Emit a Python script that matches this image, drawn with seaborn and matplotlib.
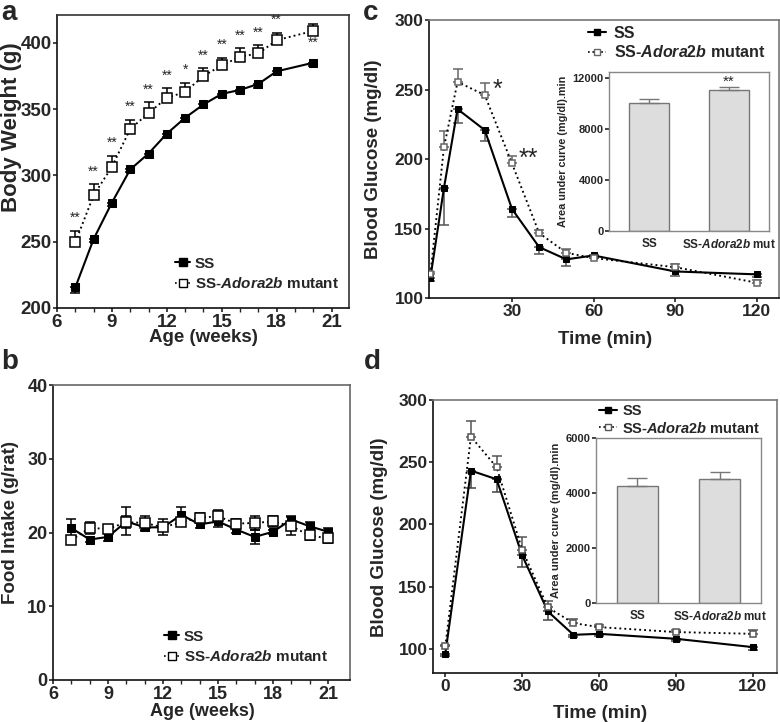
import matplotlib
matplotlib.use("Agg")
import numpy as np
import pandas as pd
import seaborn as sns
import matplotlib.pyplot as plt
from matplotlib.lines import Line2D

# ---------------- data ----------------
weeks_a = [7, 8, 9, 10, 11, 12, 13, 14, 15, 16, 17, 18, 20]
bw_ss = [215.5, 252, 279.5, 304.5, 316.5, 331.5, 343.5, 353.5, 361.5, 364.5, 369, 378.5, 385]
bw_ss_err = [4.5, 2.5, 2.5, 2, 2.5, 2.5, 2.5, 2.5, 2.5, 2.5, 3, 2, 2.5]
bw_mut = [249.5, 285, 306.5, 335, 347, 358.5, 363, 375, 383, 389.5, 392, 402, 409]
bw_mut_err = [8.8, 8.6, 8.5, 7, 8.3, 7.3, 7, 6, 5.8, 6.3, 6.3, 5.8, 5.5]
bw_sig = ["**", "**", "**", "**", "**", "**", "*", "**", "**", "**", "**", "**", "**"]
bw_sig_side = ["above"] * 12 + ["below"]

weeks_b = list(range(7, 22))
fi_ss = [20.6, 19.05, 19.4, 21.5, 20.7, 20.7, 22.4, 21.1, 21.5, 20.4, 19.4, 20.1, 21.75, 20.85, 20.1]
fi_ss_err = [1.2, 0.4, 0.5, 1.9, 0.5, 1.1, 1.1, 0.5, 0.8, 0.5, 1.0, 0.3, 0.5, 0.6, 0.5]
fi_mut = [19.0, 20.6, 20.5, 21.4, 21.3, 20.7, 21.4, 22.0, 22.2, 21.2, 21.3, 21.5, 20.85, 19.6, 19.2]
fi_mut_err = [0.4, 0.8, 0.5, 0.8, 0.9, 0.5, 0.5, 0.7, 0.8, 0.6, 1.0, 0.7, 1.2, 0.6, 0.6]

t_c = [0, 5, 10, 20, 30, 40, 50, 60, 90, 120]
gc_ss = [114.4, 179.2, 235.9, 220.8, 164.1, 136.6, 127.8, 130.6, 119.1, 117]
gc_ss_err = [2.5, 26.6, 10, 8, 6, 4.6, 5, 2, 3.6, 2]
gc_mut = [117, 208.4, 255.5, 246, 196.9, 146.7, 132.5, 128.7, 122.2, 111]
gc_mut_err = [2, 12, 9, 9, 5, 2, 3, 2, 2, 2]
auc_groups = ["SS", "SS-$\\it{Adora2b}$ mut"]
auc_c = [10084, 11082]
auc_c_err = [260, 210]

t_d = [0, 10, 20, 30, 40, 50, 60, 90, 120]
gd_ss = [96, 243.2, 236.3, 175, 130, 111.2, 112, 108, 101.3]
gd_ss_err = [1.5, 14, 10.5, 9.5, 6.7, 1.5, 1.5, 2, 2.7]
gd_mut = [101.9, 270.5, 246, 179.5, 133.2, 120.6, 117.4, 113.4, 112]
gd_mut_err = [1.5, 13, 9, 10, 4.8, 3.2, 1.5, 1.5, 3]
auc_d = [4242, 4509]
auc_d_err = [300, 255]

series_names = ["SS", "SS-$\\it{Adora2b}$ mutant"]

# ---------------- style ----------------
sns.set_theme(style="ticks")
plt.rcParams["font.family"] = ["Liberation Sans", "DejaVu Sans"]
plt.rcParams["font.weight"] = "bold"
plt.rcParams["axes.labelweight"] = "bold"
plt.rcParams["mathtext.fontset"] = "custom"
plt.rcParams["mathtext.it"] = "Liberation Sans:italic:bold"
plt.rcParams["mathtext.rm"] = "Liberation Sans:bold"
plt.rcParams["mathtext.bf"] = "Liberation Sans:bold"

W, H = 780, 722
fig = plt.figure(figsize=(W / 100, H / 100), dpi=100)


def px_axes(l, t, r, b):
    return fig.add_axes([l / W, 1 - b / H, (r - l) / W, (b - t) / H])


def ftext(x, y, s, **kw):
    fig.text(x / W, 1 - y / H, s, **kw)


def style_axes(ax, spine_col="#333333", lw=1.2, labelsize=13):
    for s in ax.spines.values():
        s.set_visible(True)
        s.set_color(spine_col)
        s.set_linewidth(lw)
    ax.spines["left"].set_color("#111111")
    ax.spines["bottom"].set_color("#111111")
    ax.tick_params(direction="out", length=3, width=1.1, labelsize=labelsize, pad=1, color="#111111")
    for lab in ax.get_xticklabels() + ax.get_yticklabels():
        lab.set_fontweight("bold")


def draw_series(ax, x, y, err, filled, ms, up, lw=1.5, ecol="black", both=False):
    if both:
        yerr = [err, err]
    elif up:
        yerr = [np.zeros(len(err)), err]
    else:
        yerr = [err, np.zeros(len(err))]
    ax.errorbar(x, y, yerr=yerr, fmt="none", ecolor=ecol, elinewidth=1.1, capsize=3.5, capthick=1.1, zorder=2)
    df = pd.DataFrame({"x": x, "y": y})
    if filled:
        sns.lineplot(data=df, x="x", y="y", ax=ax, color="black", linewidth=lw, marker="s",
                     markersize=ms, markerfacecolor="black", markeredgecolor="black",
                     sort=False, errorbar=None, zorder=3)
    else:
        sns.lineplot(data=df, x="x", y="y", ax=ax, color="black", linewidth=lw * 0.9, linestyle=":",
                     marker="s", markersize=ms, markerfacecolor="white", markeredgecolor=ecol,
                     markeredgewidth=1.1, sort=False, errorbar=None, zorder=4)


def add_legend(ax, xpx, ypx, fs, ms, hl=0.9, spacing=0.35, mec="black", tp=0.3):
    hs = [Line2D([], [], color="black", lw=1.5, marker="s", ms=ms, mfc="black"),
          Line2D([], [], color="black", lw=1.2, ls=":", marker="s", ms=ms, mfc="white", mec=mec)]
    ax.legend(hs, series_names, loc="center left", bbox_to_anchor=(xpx / W, 1 - ypx / H),
              bbox_transform=fig.transFigure, frameon=False, handlelength=hl,
              handletextpad=tp, labelspacing=spacing, borderpad=0, borderaxespad=0,
              prop={"weight": "bold", "size": fs})


# ---------------- panel a ----------------
ax = px_axes(57, 15, 349, 308)
draw_series(ax, weeks_a, bw_ss, bw_ss_err, True, 5.5, up=False)
draw_series(ax, weeks_a, bw_mut, bw_mut_err, False, 6.5, up=True)
ax.set_xlim(6, 21.95)
ax.set_ylim(200, 421)
ax.set_xticks([6, 9, 12, 15, 18, 21])
ax.set_xticks(range(6, 22), minor=True)
ax.set_yticks([200, 250, 300, 350, 400])
ax.set_xlabel("")
ax.set_ylabel("")
style_axes(ax, labelsize=13.5)
ax.tick_params(axis="x", which="minor", length=3, width=1)
for x, m, e, s, side in zip(weeks_a, bw_mut, bw_mut_err, bw_sig, bw_sig_side):
    yy = m + e + 9.5 if side == "above" else m - 9
    ax.text(x, yy, s, ha="center", va="center", fontsize=10, fontweight="normal")
add_legend(ax, 175, 274, 11, 5.5, hl=1.0)
ftext(12, 127, "Body Weight (g)", rotation=90, ha="center", va="center", fontsize=16, fontweight="bold")
ftext(203, 338, "Age (weeks)", ha="center", va="center", fontsize=13.5, fontweight="bold")
ftext(1, 0, "a", ha="left", va="top", fontsize=20, fontweight="bold")

# ---------------- panel b ----------------
ax = px_axes(53, 385, 350, 680)
draw_series(ax, weeks_b, fi_ss, fi_ss_err, True, 6, up=False, both=True)
draw_series(ax, weeks_b, fi_mut, fi_mut_err, False, 6.5, up=True, both=True)
ax.set_xlim(6, 22.2)
ax.set_ylim(0, 40)
ax.set_xticks([6, 9, 12, 15, 18, 21])
ax.set_xticks(range(6, 22), minor=True)
ax.set_yticks([0, 10, 20, 30, 40])
ax.set_xlabel("")
ax.set_ylabel("")
style_axes(ax, spine_col="#666666", labelsize=13)
ax.tick_params(axis="x", which="minor", length=3, width=1)
add_legend(ax, 164, 647, 11, 6, hl=1.0)
ftext(11, 523, "Food Intake (g/rat)", rotation=90, ha="center", va="center", fontsize=13.5, fontweight="bold")
ftext(202, 712, "Age (weeks)", ha="center", va="center", fontsize=13, fontweight="bold")
ftext(1, 369, "b", ha="left", va="baseline", fontsize=20, fontweight="bold")

# ---------------- panel c ----------------
ax = px_axes(429, 20, 779, 298)
draw_series(ax, t_c, gc_ss, gc_ss_err, True, 4, up=False, ecol="#555555")
draw_series(ax, t_c, gc_mut, gc_mut_err, False, 5, up=True, ecol="#666666")
ax.set_xlim(-0.5, 128.2)
ax.set_ylim(100, 300)
ax.set_xticks([30, 60, 90, 120])
ax.set_yticks([100, 150, 200, 250, 300])
ax.set_xlabel("")
ax.set_ylabel("")
style_axes(ax, spine_col="#777777", labelsize=12.5)
ax.text(24.5, 250, "*", ha="center", va="center", fontsize=18, fontweight="normal")
ax.text(36, 200, "**", ha="center", va="center", fontsize=18, fontweight="normal")
add_legend(ax, 588, 43, 11.5, 4.5, hl=1.1, spacing=0.25, mec="#666666", tp=0.5)
ftext(374, 159, "Blood Glucose (mg/dl)", rotation=90, ha="center", va="center", fontsize=13.5, fontweight="bold")
ftext(605, 339, "Time (min)", ha="center", va="center", fontsize=13.5, fontweight="bold")
ftext(363, 0, "c", ha="left", va="top", fontsize=20, fontweight="bold")

axi = px_axes(609, 72, 769, 231)
sns.barplot(x=auc_groups, y=auc_c, ax=axi, color="#dddddd", edgecolor="#777777", linewidth=1, width=0.5,
            saturation=1, errorbar=None)
axi.errorbar([0, 1], auc_c, yerr=[[0, 0], auc_c_err], fmt="none", ecolor="#777777", elinewidth=1,
             capsize=7, capthick=1)
axi.set_xlim(-0.5, 1.5)
axi.set_ylim(0, 12500)
axi.set_yticks([0, 4000, 8000, 12000])
axi.set_ylabel("Area under curve (mg/dl).min", fontsize=7.8, fontweight="bold", labelpad=3)
style_axes(axi, spine_col="#888888", lw=1, labelsize=8)
for s in axi.spines.values():
    s.set_color("#888888")
axi.tick_params(axis="x", length=0, labelsize=8.5, pad=5)
axi.tick_params(axis="y", length=3)
axi.text(1, 11292 + 450, "**", ha="center", va="center", fontsize=11, fontweight="normal")

# ---------------- panel d ----------------
ax = px_axes(433, 400, 777, 673)
draw_series(ax, t_d, gd_ss, gd_ss_err, True, 4.5, up=False, ecol="#444444")
draw_series(ax, t_d, gd_mut, gd_mut_err, False, 5, up=True, ecol="#555555")
ax.set_xlim(-4.8, 129.4)
ax.set_ylim(80.5, 300)
ax.set_xticks([0, 30, 60, 90, 120])
ax.set_yticks([100, 150, 200, 250, 300])
ax.set_xlabel("")
ax.set_ylabel("")
style_axes(ax, spine_col="#777777", labelsize=12.5)
add_legend(ax, 599, 420, 10.5, 4.5, hl=1.2, spacing=0.15, mec="#555555", tp=0.4)
ftext(380, 537, "Blood Glucose (mg/dl)", rotation=90, ha="center", va="center", fontsize=13.5, fontweight="bold")
ftext(600, 713, "Time (min)", ha="center", va="center", fontsize=13.5, fontweight="bold")
ftext(364, 369, "d", ha="left", va="baseline", fontsize=20, fontweight="bold")

axi = px_axes(596, 438, 761, 603)
sns.barplot(x=auc_groups, y=auc_d, ax=axi, color="#dddddd", edgecolor="#777777", linewidth=1, width=0.5,
            saturation=1, errorbar=None)
axi.errorbar([0, 1], auc_d, yerr=[[0, 0], auc_d_err], fmt="none", ecolor="#777777", elinewidth=1,
             capsize=7, capthick=1)
axi.set_xlim(-0.5, 1.5)
axi.set_ylim(0, 6000)
axi.set_yticks([0, 2000, 4000, 6000])
axi.set_ylabel("Area under curve (mg/dl).min", fontsize=8, fontweight="bold", labelpad=3)
style_axes(axi, spine_col="#888888", lw=1, labelsize=8)
for s in axi.spines.values():
    s.set_color("#888888")
axi.tick_params(axis="x", length=0, labelsize=8.5, pad=5)
axi.tick_params(axis="y", length=3)

fig.savefig("out.png", dpi=100)
